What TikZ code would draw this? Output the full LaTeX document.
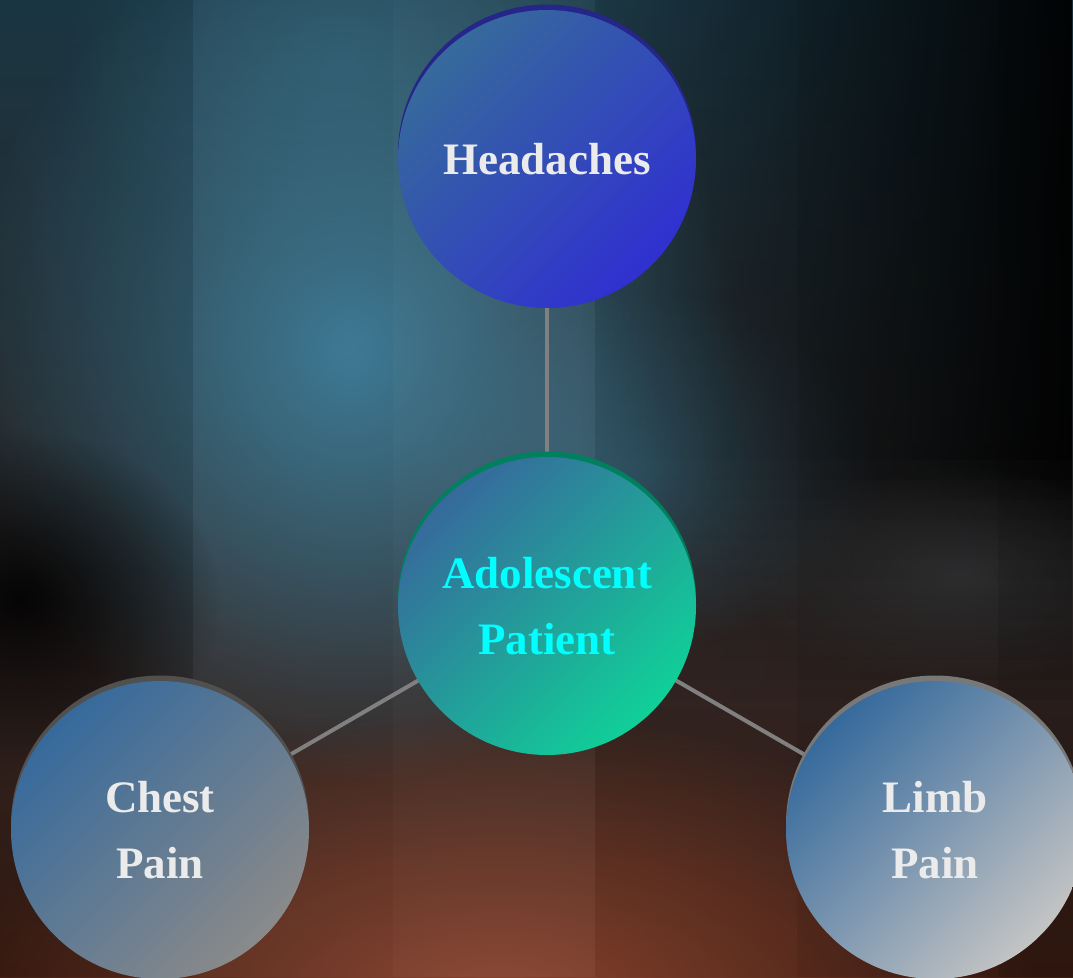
\documentclass[tikz,border=0pt]{standalone}
\usepackage{fontspec}
\setmainfont{Liberation Serif}
\usetikzlibrary{fadings}
\tikzfading[name=radfade, inner color=transparent!0, outer color=transparent!100]
\tikzfading[name=darkright, left color=transparent!100, right color=transparent!0]
\pgfdeclarelayer{bg}
\pgfdeclarelayer{edges}
\pgfsetlayers{bg,edges,main}
\definecolor{bgtop}{HTML}{1E3C4A}
\definecolor{bgmid}{HTML}{0E1A20}
\definecolor{bgbot}{HTML}{3A1C12}
\definecolor{tealglow}{HTML}{3B7893}
\definecolor{orangeglow}{HTML}{8E4630}
\definecolor{grayglow}{HTML}{3A3C3E}
\definecolor{nodetop}{HTML}{366A9C}
\definecolor{headbot}{HTML}{3030D0}
\definecolor{adolbot}{HTML}{10D098}
\definecolor{chestbot}{HTML}{8A8A8A}
\definecolor{limbbot}{HTML}{C4C4C4}
\definecolor{headrim}{HTML}{25258A}
\definecolor{adolrim}{HTML}{00805E}
\definecolor{chestrim}{HTML}{505050}
\definecolor{limbrim}{HTML}{787878}
\definecolor{labelgray}{HTML}{EBEBEB}
\definecolor{labelcyan}{HTML}{00FFFF}
\definecolor{edgegray}{HTML}{808080}
\begin{document}
\begin{tikzpicture}[x=1pt,y=-1pt,
  bubble/.style 2 args={circle, inner sep=0pt, minimum size=298pt, align=center,
    font=\fontsize{45}{66}\selectfont\bfseries, text=labelgray,
    top color=nodetop, middle color=nodetop!72!#2, bottom color=#2, shading angle=45,
    preaction={fill=#1, transform canvas={yshift=5.5pt}}},
  link/.style={draw=edgegray, line width=4pt}]
\useasboundingbox (0,0) rectangle (1073,977);

\node[bubble={headrim}{headbot}] (head) at (547,159) {Headaches};
\node[bubble={adolrim}{adolbot}, text=labelcyan] (adol) at (547,606) {Adolescent\\Patient};
\node[bubble={chestrim}{chestbot}] (chest) at (160,830) {Chest\\Pain};
\node[bubble={limbrim}{limbbot}] (limb) at (935,830) {Limb\\Pain};

\begin{pgfonlayer}{edges}
\draw[link] (adol.center) -- (head.center);
\draw[link] (adol.center) -- (chest.center);
\draw[link] (adol.center) -- (limb.center);
\end{pgfonlayer}

\begin{pgfonlayer}{bg}
\shade[top color=bgtop, middle color=bgmid, bottom color=bgbot] (0,0) rectangle (1073,977);
\fill[tealglow, path fading=radfade] (350,350) ellipse [x radius=390, y radius=430];
\fill[tealglow, path fading=radfade, opacity=0.35] (340,60) ellipse [x radius=280, y radius=220];
\fill[tealglow, path fading=radfade, opacity=0.5] (640,470) ellipse [x radius=240, y radius=180];
\fill[orangeglow, path fading=radfade] (500,1010) ellipse [x radius=540, y radius=300];
\fill[black, path fading=darkright, opacity=0.92] (580,0) rectangle (1073,460);
\foreach \i in {0,...,11}
  \fill[black, path fading=darkright, opacity={0.92*(1-(\i+1)/13)}] (580,460+20*\i) rectangle (1073,480+20*\i);
\fill[grayglow, path fading=radfade, opacity=0.7] (960,575) ellipse [x radius=220, y radius=110];
\fill[black, path fading=radfade, opacity=0.85] (20,600) ellipse [x radius=200, y radius=170];
% vertical stripes
\fill[black, opacity=0.10] (0,0) rectangle (193,977);
\fill[white, opacity=0.02] (193,0) rectangle (393,977);
\fill[white, opacity=0.04] (393,0) rectangle (595,977);
\fill[black, opacity=0.03] (595,0) rectangle (797,977);
\fill[black, opacity=0.10] (797,0) rectangle (998,977);
\fill[black, opacity=0.20] (998,0) rectangle (1073,977);
\end{pgfonlayer}
\end{tikzpicture}
\end{document}
